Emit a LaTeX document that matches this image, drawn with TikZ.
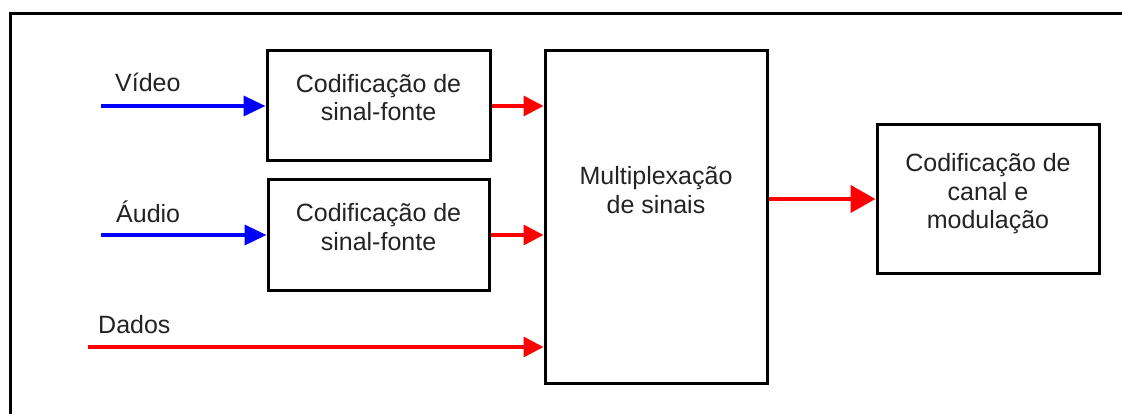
\documentclass[tikz,border=0pt]{standalone}
\usepackage{fontspec}
\setmainfont{Liberation Sans}
\usetikzlibrary{arrows.meta}
\definecolor{txtgray}{RGB}{35,35,35}
\begin{document}
\begin{tikzpicture}[x=1pt,y=-1pt,
  blk/.style={draw=black,line width=3pt,inner sep=0pt,fill=none},
  txt/.style={font=\fontsize{25}{29}\selectfont,text=txtgray,anchor=base,inner sep=0pt},
  lbl/.style={font=\fontsize{25}{29}\selectfont,text=txtgray,anchor=base west,inner sep=0pt},
  bluearr/.style={draw=blue,line width=3.5pt,-{Triangle[length=22pt,width=20pt]}},
  redarr/.style={draw=red,line width=3.5pt,-{Triangle[length=20pt,width=20pt]}},
  bigarr/.style={draw=red,line width=4.5pt,-{Triangle[length=25pt,width=27pt]}},
]
\useasboundingbox (0,0) rectangle (1122,414);
\fill[white] (0,0) rectangle (1122,414);
\clip (0,0) rectangle (1122,414);
\draw[line width=3pt] (10,440) -- (10,13.5) -- (1140,13.5);

% boxes
\node[blk,minimum width=223pt,minimum height=110pt] (box1) at (378.5,106) {};
\node[blk,minimum width=221pt,minimum height=110pt] (box2) at (378.5,235) {};
\node[blk,minimum width=222pt,minimum height=332pt] (mux) at (656,217) {};
\node[blk,minimum width=222pt,minimum height=148pt] (chan) at (988,199) {};

% box texts
\node[txt] (b1a) at (378.5,93) {Codificação de};
\node[txt] (b1b) at (378.5,121) {sinal-fonte};
\node[txt] (b2a) at (378.5,222) {Codificação de};
\node[txt] (b2b) at (378.5,251) {sinal-fonte};
\node[txt] (mxa) at (656,185) {Multiplexação};
\node[txt] (mxb) at (656,214) {de sinais};
\node[txt] (cha) at (988,172) {Codificação de};
\node[txt] (chb) at (988,201) {canal e};
\node[txt] (chc) at (988,229) {modulação};

% input labels
\node[lbl] (lv) at (115,92) {Vídeo};
\node[lbl] (la) at (116,223) {Áudio};
\node[lbl] (ld) at (98,333) {Dados};

% input start points
\coordinate (vin) at (101,106);
\coordinate (ain) at (101,235);
\coordinate (din) at (88,347);

% connectors
\draw[bluearr] (vin) -- (vin -| box1.west);
\draw[bluearr] (ain) -- (ain -| box2.west);
\draw[redarr] (box1.east) -- (box1.east -| mux.west);
\draw[redarr] (box2.east) -- (box2.east -| mux.west);
\draw[redarr] (din) -- (din -| mux.west);
\draw[bigarr] (chan.west -| mux.east) -- (chan.west);
\end{tikzpicture}
\end{document}
